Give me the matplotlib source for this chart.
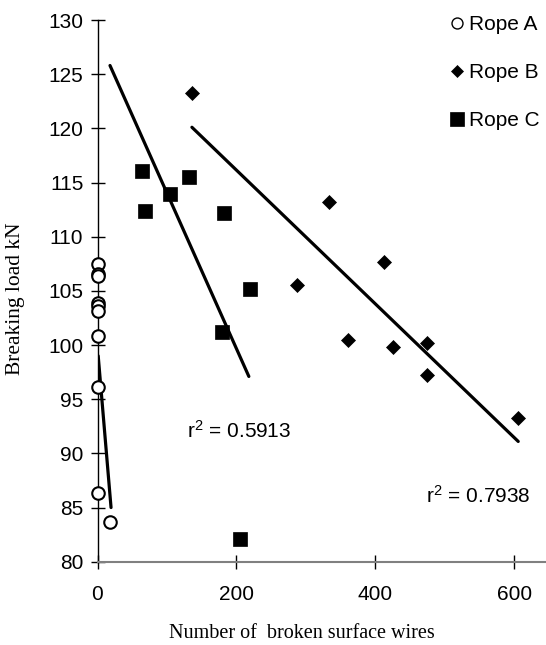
import matplotlib
matplotlib.use("Agg")
import matplotlib.pyplot as plt

plt.rcParams["mathtext.fontset"] = "custom"
plt.rcParams["mathtext.rm"] = "Liberation Sans"
plt.rcParams["mathtext.default"] = "regular"

# Rope A (open circles)
rope_a_x = [0, 0, 0, 0, 0, 0, 0, 0, 0, 18]
rope_a_y = [107.5, 106.6, 106.4, 103.9, 103.6, 103.1, 100.8, 96.1, 86.3, 83.7]
# Rope B (diamonds)
rope_b_x = [136, 333, 413, 287, 361, 425, 474, 474, 606]
rope_b_y = [123.3, 113.2, 107.7, 105.5, 100.5, 99.8, 100.2, 97.2, 93.3]
# Rope C (squares)
rope_c_x = [64, 69, 104, 132, 182, 219, 179, 205]
rope_c_y = [116.1, 112.4, 113.9, 115.5, 112.2, 105.2, 101.2, 82.1]

# Trend lines (endpoints)
trend_a_x = [1, 19.5]
trend_a_y = [99.0, 85.0]
trend_b_x = [136, 606]
trend_b_y = [120.1, 91.1]
trend_c_x = [18, 218]
trend_c_y = [125.8, 97.1]

r2_labels = [r"r$^{2}$ = 0.5913", r"r$^{2}$ = 0.7938"]
r2_pos = [(129, 91.47), (473, 85.47)]

x_ticks = [0, 200, 400, 600]
y_ticks = [80, 85, 90, 95, 100, 105, 110, 115, 120, 125, 130]

sans = "Liberation Sans"
serif = "Liberation Serif"
FS = 15

fig = plt.figure(figsize=(5.46, 6.45), dpi=100)
ax = fig.add_axes([97.5 / 546, (645 - 561.7) / 645, 1 - 97.5 / 546, (561.7 - 20) / 645])

lw = 2.3
ax.plot(trend_a_x, trend_a_y, color="black", lw=lw, solid_capstyle="round", zorder=2)
ax.plot(trend_b_x, trend_b_y, color="black", lw=lw, solid_capstyle="round", zorder=2)
ax.plot(trend_c_x, trend_c_y, color="black", lw=lw, solid_capstyle="round", zorder=2)

ax.plot(rope_a_x, rope_a_y, linestyle="none", marker="o", ms=9, mfc="white",
        mec="black", mew=1.5, label="Rope A", zorder=3, clip_on=False)
ax.plot(rope_b_x, rope_b_y, linestyle="none", marker="D", ms=7, mfc="black",
        mec="black", mew=0.5, label="Rope B", zorder=3)
ax.plot(rope_c_x, rope_c_y, linestyle="none", marker="s", ms=10.5, mfc="black",
        mec="black", mew=0.5, label="Rope C", zorder=3)

for t, (px, py) in zip(r2_labels, r2_pos):
    ax.text(px, py, t, fontsize=FS, family=sans, va="baseline", ha="left")

ax.set_xlim(0, 646)
ax.set_ylim(80, 130)
ax.set_xticks(x_ticks)
ax.set_yticks(y_ticks)
for lab in ax.get_xticklabels() + ax.get_yticklabels():
    lab.set_fontfamily(sans)
    lab.set_fontsize(FS)

ax.tick_params(axis="both", direction="inout", length=9.4, width=1, color="black")
ax.tick_params(axis="x", pad=12)
ax.tick_params(axis="y", pad=5.5)

for s in ["top", "right"]:
    ax.spines[s].set_visible(False)
ax.spines["left"].set_color("black")
ax.spines["left"].set_linewidth(1)
ax.spines["bottom"].set_color("#808080")
ax.spines["bottom"].set_linewidth(1.5)

ax.set_xlabel("Number of  broken surface wires", fontsize=14.5, family=serif)
ax.xaxis.set_label_coords(0.456, -0.115)
ax.set_ylabel("Breaking load kN", fontsize=15.5, family=serif)
ax.yaxis.set_label_coords(-0.162, 0.485)

leg = ax.legend(loc="upper left", bbox_to_anchor=(450.5 / 546, 1 - 15.3 / 645),
                bbox_transform=fig.transFigure, frameon=False, numpoints=1,
                handlelength=0.6, handletextpad=0.3, labelspacing=1.39,
                borderpad=0, borderaxespad=0, prop={"family": sans, "size": FS})
leg_sizes = [7.9, 6.6, 9.4]
leg_mew = [1.0, 0.5, 0.5]
for h, s, w in zip(leg.legend_handles, leg_sizes, leg_mew):
    h.set_markersize(s)
    h.set_markeredgewidth(w)

fig.savefig("out.png", dpi=100)
